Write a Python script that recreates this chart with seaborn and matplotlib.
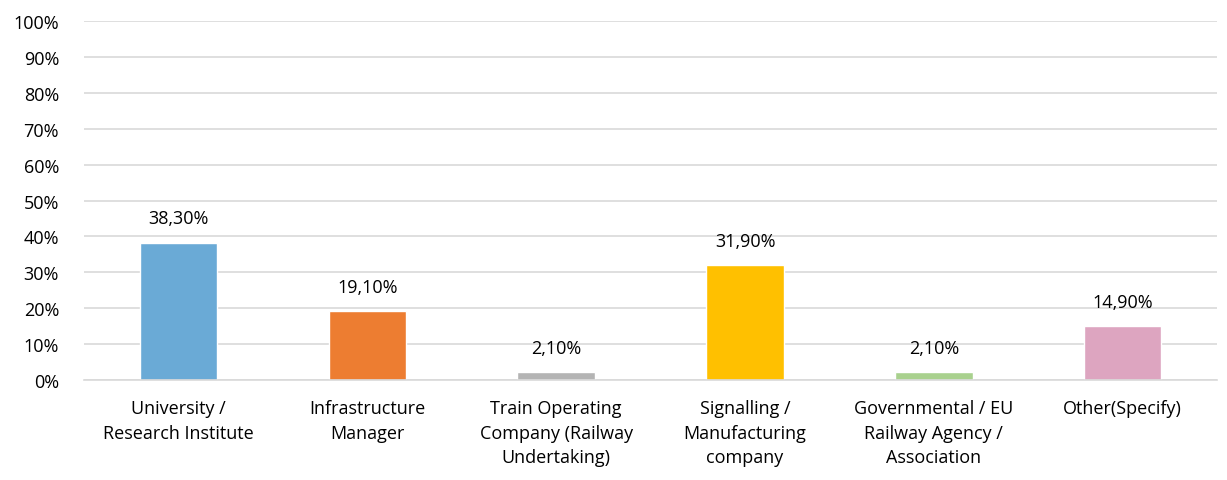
import seaborn as sns
import matplotlib.pyplot as plt
import pandas as pd
from matplotlib.ticker import FuncFormatter

# values (percent of respondents)
categories = ['University /\nResearch Institute',
              'Infrastructure\nManager',
              'Train Operating\nCompany (Railway\nUndertaking)',
              'Signalling /\nManufacturing\ncompany',
              'Governmental / EU\nRailway Agency /\nAssociation',
              'Other(Specify)']
shares = [38.3, 19.1, 2.1, 31.9, 2.1, 14.9]
colors = ['#6AAAD6', '#ED7D31', '#B4B4B4', '#FFC000', '#A9D18E', '#DDA5C0']


def main():
    df = pd.DataFrame({'cat': categories, 'share': shares})
    sns.set_style('white')
    plt.rcParams['font.family'] = ['Open Sans', 'DejaVu Sans']

    fig = plt.figure(figsize=(12.27, 4.81), dpi=100)
    ax = fig.add_axes([0.0685, 0.208, 0.9235, 0.746])
    sns.barplot(data=df, x='cat', y='share', hue='cat', palette=colors,
                width=0.41, legend=False, ax=ax, saturation=1)

    ax.set_ylim(0, 100)
    ax.set_yticks(range(0, 101, 10))
    ax.yaxis.set_major_formatter(FuncFormatter(lambda v, p: '%d%%' % v))
    ax.yaxis.grid(True, color='#D9D9D9', linewidth=1.2)
    ax.set_axisbelow(True)
    for s in ['top', 'right', 'left']:
        ax.spines[s].set_visible(False)
    ax.spines['bottom'].set_color('#D9D9D9')
    ax.spines['bottom'].set_linewidth(1.2)
    ax.set_xlabel('')
    ax.set_ylabel('')
    ax.tick_params(axis='both', length=0, labelsize=13, colors='black')
    ax.tick_params(axis='x', pad=14)
    ax.tick_params(axis='y', pad=18)
    for lbl in ax.get_xticklabels():
        lbl.set_linespacing(1.45)
    ax.set_xlim(-0.5, len(categories) - 0.5)

    for cont in ax.containers:
        ax.bar_label(cont, labels=[('%.2f%%' % b.get_height()).replace('.', ',')
                                   for b in cont],
                     padding=11, fontsize=13, color='black')

    fig.savefig('out.png', dpi=100)


if __name__ == '__main__':
    main()
